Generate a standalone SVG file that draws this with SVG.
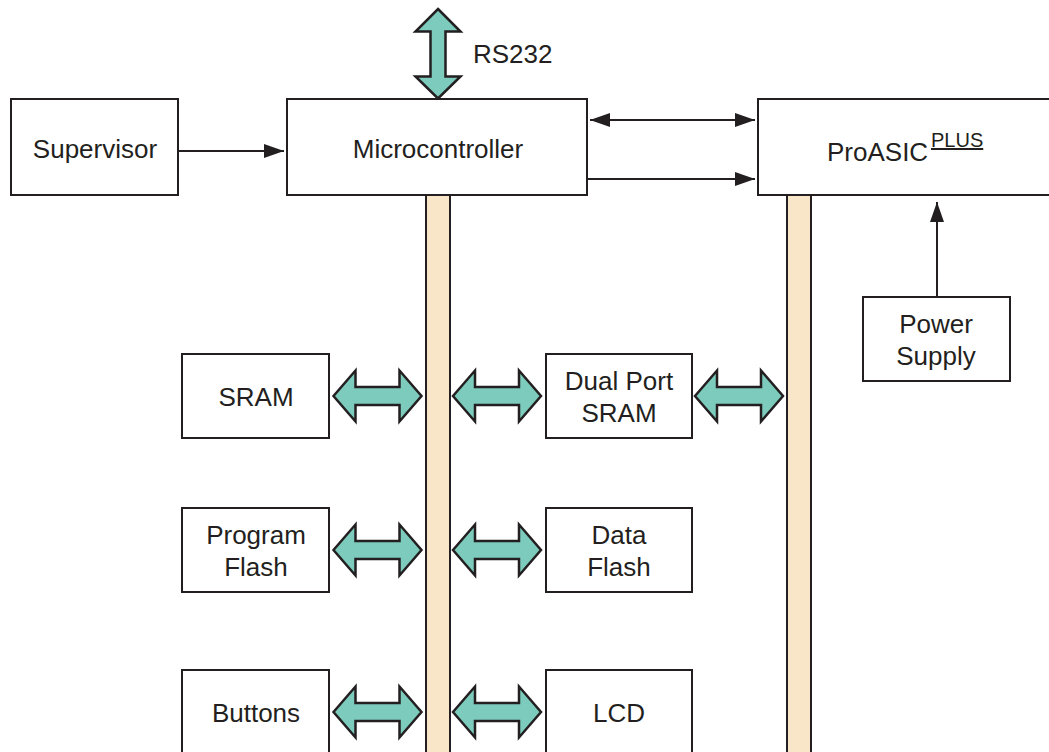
<svg xmlns="http://www.w3.org/2000/svg" xmlns:xlink="http://www.w3.org/1999/xlink" width="1049" height="752" viewBox="0 0 1049 752">
<style>
.box{fill:#fff;stroke:#231f20;stroke-width:2}
.bus{fill:#f9e5c8;stroke:#231f20;stroke-width:2}
.blk{fill:#7ccbbc;stroke:#231f20;stroke-width:2.5;stroke-linejoin:miter}
.ln{stroke:#231f20;stroke-width:2;fill:none}
text{font-family:"Liberation Sans",Arial,sans-serif;font-size:26px;fill:#231f20;text-anchor:middle}
</style>
<defs>
<marker id="ah" markerUnits="userSpaceOnUse" markerWidth="22" markerHeight="16" refX="20" refY="7" orient="auto-start-reverse" viewBox="0 0 22 14">
<path d="M0,0 L20,7 L0,14 Z" fill="#231f20"/>
</marker>
<path id="dbl" class="blk" d="M0,0 L22,-25.5 L22,-9 L66,-9 L66,-25.5 L88,0 L66,25.5 L66,9 L22,9 L22,25.5 Z"/>
</defs>
<g id="bus1"><rect class="bus" x="426" y="195" width="24" height="570"/></g>
<g id="bus2"><rect class="bus" x="787" y="195" width="24" height="570"/></g>
<g id="supervisor"><rect class="box" x="11" y="99" width="167" height="96"/><text x="95" y="158">Supervisor</text></g>
<g id="microcontroller"><rect class="box" x="287" y="99" width="300" height="96"/><text x="438" y="158">Microcontroller</text></g>
<g id="proasic"><rect class="box" x="758" y="99" width="300" height="96"/><text x="827" y="161" style="text-anchor:start">ProASIC</text><text x="931" y="147" style="font-size:20px;text-anchor:start;text-decoration:underline">PLUS</text></g>
<g id="power"><rect class="box" x="863" y="297" width="147" height="84"/><text x="936" y="333">Power</text><text x="936" y="365">Supply</text></g>
<g id="sram"><rect class="box" x="182" y="354" width="147" height="84"/><text x="256" y="406">SRAM</text></g>
<g id="dpsram"><rect class="box" x="546" y="354" width="146" height="84"/><text x="619" y="390">Dual Port</text><text x="619" y="421.5">SRAM</text></g>
<g id="pflash"><rect class="box" x="182" y="508" width="147" height="84"/><text x="256" y="543.5">Program</text><text x="256" y="575.5">Flash</text></g>
<g id="dflash"><rect class="box" x="546" y="508" width="146" height="84"/><text x="619" y="543.5">Data</text><text x="619" y="575.5">Flash</text></g>
<g id="buttons"><rect class="box" x="182" y="670" width="147" height="100"/><text x="256" y="722">Buttons</text></g>
<g id="lcd"><rect class="box" x="546" y="670" width="146" height="100"/><text x="619" y="722">LCD</text></g>
<g id="connectors">
<line class="ln" x1="178" y1="151" x2="284" y2="151" marker-end="url(#ah)"/>
<line class="ln" x1="590" y1="120" x2="755" y2="120" marker-start="url(#ah)" marker-end="url(#ah)"/>
<line class="ln" x1="587" y1="179" x2="755" y2="179" marker-end="url(#ah)"/>
<line class="ln" x1="937" y1="297" x2="937" y2="202" marker-end="url(#ah)"/>
<path class="blk" d="M438,9 L460.5,31.5 L445.5,31.5 L445.5,76.5 L460.5,76.5 L438,98.5 L415.5,76.5 L430.5,76.5 L430.5,31.5 L415.5,31.5 Z"/>
<use xlink:href="#dbl" x="333.5" y="396"/>
<use xlink:href="#dbl" x="453" y="396"/>
<use xlink:href="#dbl" x="695" y="396"/>
<use xlink:href="#dbl" x="333.5" y="550"/>
<use xlink:href="#dbl" x="453" y="550"/>
<use xlink:href="#dbl" x="333.5" y="712"/>
<use xlink:href="#dbl" x="453" y="712"/>
</g>
<text x="473" y="63" style="text-anchor:start">RS232</text>
</svg>
